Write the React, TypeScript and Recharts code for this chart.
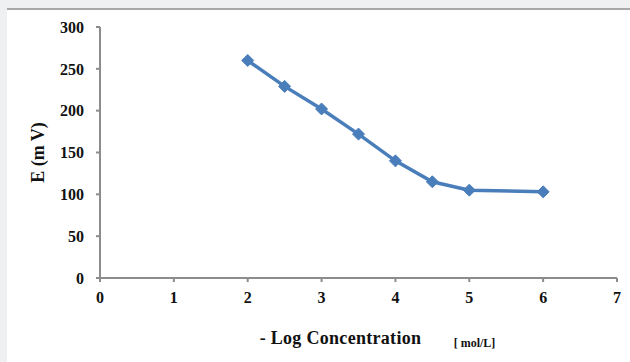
import React from "react";
import { LineChart, Line, XAxis, YAxis, Label } from "recharts";

// Electrode potential vs. -log concentration
const logConcentration = [2, 2.5, 3, 3.5, 4, 4.5, 5, 6];
const potentialMv = [260, 229, 202, 172, 140, 115, 105, 103];
const xTicks = [0, 1, 2, 3, 4, 5, 6, 7];
const yTicks = [0, 50, 100, 150, 200, 250, 300];

const data = logConcentration.map((x, i) => ({ x, e: potentialMv[i] }));

const serif = "Liberation Serif, Times New Roman, serif";
const lineColor = "#4a7ebb";
const axisColor = "#8c8c8c";

const Diamond = (props: any) => {
  const { cx, cy } = props;
  if (cx == null || cy == null) return null;
  const r = 6;
  return (
    <path
      d={`M${cx},${cy - r} L${cx + r},${cy} L${cx},${cy + r} L${cx - r},${cy} Z`}
      fill={lineColor}
      stroke={lineColor}
      strokeWidth={1}
    />
  );
};

const XTitle = (props: any) => {
  const { viewBox } = props;
  const cx = viewBox.x + viewBox.width / 2;
  const y = viewBox.y + 66;
  return (
    <g style={{ fontFamily: serif, fontWeight: "bold" }} fill="#111">
      <text x={cx - 18} y={y} fontSize={18} textAnchor="middle" letterSpacing={0.3}>
        - Log Concentration
      </text>
      <text x={cx + 116} y={y + 3} fontSize={12} textAnchor="middle">
        [ mol/L]
      </text>
    </g>
  );
};

const tickStyle = { fill: "#111", fontSize: 16, fontWeight: "bold", fontFamily: serif };

export default function App() {
  return (
    <div
      style={{
        position: "fixed",
        inset: 0,
        background: "#eef0f2",
      }}
    >
      <div
        style={{
          position: "absolute",
          left: 7,
          top: 8,
          right: 0,
          bottom: 0,
          background: "#ffffff",
          borderTop: "2px solid #a8a8a8",
          fontFamily: serif,
        }}
      >
        <LineChart
          width={623}
          height={352}
          data={data}
          margin={{ top: 17, right: 13, left: 0, bottom: 0 }}
          style={{ fontFamily: serif }}
        >
          <XAxis
            dataKey="x"
            type="number"
            domain={[0, 7]}
            ticks={xTicks}
            height={84}
            tickSize={4}
            tickMargin={10}
            stroke={axisColor}
            strokeWidth={2}
            tick={tickStyle}
          >
            <Label content={<XTitle />} />
          </XAxis>
          <YAxis
            type="number"
            domain={[0, 300]}
            ticks={yTicks}
            width={93}
            tickSize={4}
            tickMargin={12}
            stroke={axisColor}
            strokeWidth={2}
            tick={tickStyle}
          >
            <Label
              value="E (m V)"
              angle={-90}
              position="insideLeft"
              offset={31}
              style={{
                fill: "#111",
                fontSize: 18,
                fontWeight: "bold",
                fontFamily: serif,
                textAnchor: "middle",
              }}
            />
          </YAxis>
          <Line
            dataKey="e"
            stroke={lineColor}
            strokeWidth={3.5}
            dot={<Diamond />}
            activeDot={false}
            isAnimationActive={false}
          />
        </LineChart>
      </div>
    </div>
  );
}
